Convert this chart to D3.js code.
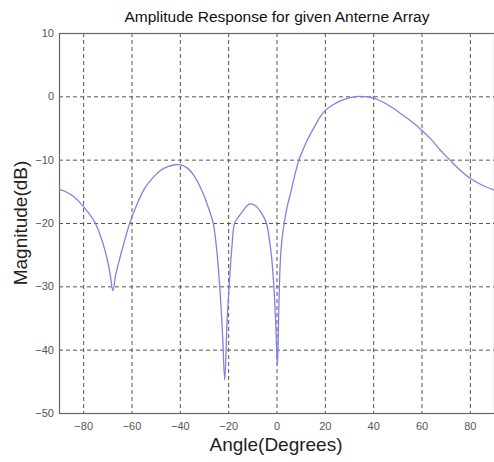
<!DOCTYPE html>
<html>
<head>
<meta charset="utf-8">
<script src="https://cdn.jsdelivr.net/npm/d3@7"></script>
<style>
html,body{margin:0;padding:0;background:#fff;}
svg{display:block;}
text{font-family:"Liberation Sans",Arial,sans-serif;}
</style>
</head>
<body>
<svg id="chart" width="494" height="462"></svg>
<script>
const angles = [-90,-87,-84,-81,-78,-75,-72,-70,-68.8,-67.7,-66.6,-65,-63,-60.7,-58,-54.5,-51,-48,-45,-42,-40,-37,-34,-30.4,-28,-26.2,-24.8,-23.5,-22.4,-21.4,-20.5,-19.6,-18.5,-17.3,-15.5,-13.9,-12.5,-11,-9,-6.3,-4.2,-3,-2,-1.1,-0.3,0.4,1,1.6,2.3,3.2,4.5,6,7.1,8.2,9.3,11,13,16,18,20,23,26,30,34,38,40,44,48,52,56,60,64,68,71.6,75,80,85,90];
const magnitude = [-14.7,-15.1,-15.8,-16.9,-18.3,-20,-23,-25.8,-28.2,-30.7,-28.3,-25.8,-23,-20,-17.3,-14.5,-12.8,-11.7,-11.1,-10.8,-10.8,-11.3,-12.6,-15.3,-17.8,-20,-24,-30,-37,-44.8,-36,-30,-24,-20,-18.9,-18.1,-17.4,-17,-17.2,-18.4,-20,-22.5,-25.5,-30,-36,-42.5,-33,-25.8,-22.5,-20,-17.3,-15,-13.2,-11.5,-10,-8.4,-6.7,-4.6,-3.3,-2.3,-1.4,-0.8,-0.25,0,-0.1,-0.25,-0.9,-1.8,-2.9,-4.0,-5.3,-6.8,-8.6,-10,-11.3,-12.9,-14,-14.8];
const xTicks = [-80,-60,-40,-20,0,20,40,60,80];
const yTicks = [-50,-40,-30,-20,-10,0,10];
const titleText = "Amplitude Response for given Anterne Array";
const xLabel = "Angle(Degrees)";
const yLabel = "Magnitude(dB)";

const svg = d3.select("#chart");
const x = d3.scaleLinear().domain([-90,90]).range([59,494]);
const y = d3.scaleLinear().domain([-50,10]).range([413,33]);

// grid
const g = svg.append("g");
g.selectAll(".vg").data(xTicks).enter().append("line")
  .attr("x1", d=>x(d)+0.5).attr("x2", d=>x(d)+0.5)
  .attr("y1", y(10)).attr("y2", y(-50))
  .attr("stroke", "#555").attr("stroke-width", 1).attr("stroke-dasharray", "4,3");
g.selectAll(".hg").data(yTicks.filter(d=>d>-50 && d<10)).enter().append("line")
  .attr("x1", x(-90)).attr("x2", x(90))
  .attr("y1", d=>y(d)+0.5).attr("y2", d=>y(d)+0.5)
  .attr("stroke", "#555").attr("stroke-width", 1).attr("stroke-dasharray", "4,3");

// frame
svg.append("rect").attr("x", x(-90)+0.5).attr("y", y(10)+0.5)
  .attr("width", x(90)-x(-90)).attr("height", y(-50)-y(10))
  .attr("fill","none").attr("stroke","#666").attr("stroke-width",1.2);

// axes tick labels
const xAxis = d3.axisBottom(x).tickValues(xTicks).tickSize(0).tickPadding(9);
const xa = svg.append("g").attr("transform", `translate(0,${y(-50)})`).call(xAxis);
xa.select(".domain").remove();
xa.selectAll("text").attr("font-size", 11).attr("fill", "#555").attr("font-family","Liberation Sans, Arial, sans-serif");

const yAxis = d3.axisLeft(y).tickValues(yTicks).tickSize(0).tickPadding(5);
const ya = svg.append("g").attr("transform", `translate(${x(-90)},0)`).call(yAxis);
ya.select(".domain").remove();
ya.selectAll("text").attr("font-size", 11).attr("fill", "#555").attr("font-family","Liberation Sans, Arial, sans-serif");

// curve
const data = angles.map((a,i)=>({a, m:magnitude[i]}));
const line = d3.line().x(d=>x(d.a)).y(d=>y(d.m)).curve(d3.curveCatmullRom.alpha(0.5));
svg.append("path").datum(data).attr("d", line)
  .attr("fill","none").attr("stroke","#8080e8").attr("stroke-width",1.3);

// title and labels
svg.append("text").attr("x", 277).attr("y", 22).attr("text-anchor","middle")
  .attr("font-size", 15.5).attr("fill","#111").text(titleText);
svg.append("text").attr("x", 276).attr("y", 451).attr("text-anchor","middle")
  .attr("font-size", 19).attr("fill","#222").text(xLabel);
svg.append("text").attr("transform","translate(27,223) rotate(-90)").attr("text-anchor","middle")
  .attr("font-size", 19).attr("fill","#222").text(yLabel);
</script>
</body>
</html>
